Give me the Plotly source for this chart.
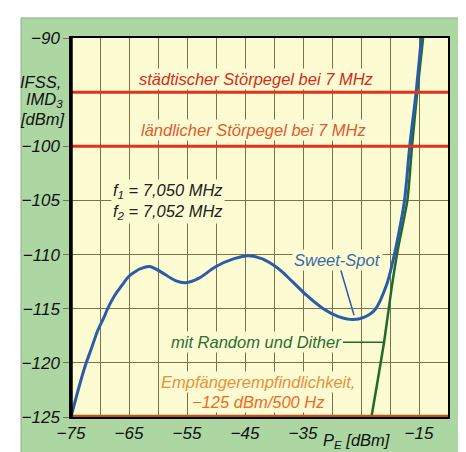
import plotly.graph_objects as go

# ---- data ----
imd_x = [-75, -73.5, -72.5, -71.5, -70.3, -69.4, -68.6, -67.5, -66.3, -65, -64, -63, -61.5, -59.5,
         -57, -55.2, -53, -50, -47, -44.5, -42, -39.5, -37, -34.3, -31.5, -29, -26.4, -24.5,
         -22.6, -20.6, -19.5, -18.3, -17.5, -16.6, -15.5, -14.6]
imd_y = [-125, -122.0, -120.2, -118.7, -116.9, -115.9, -114.9, -113.8, -112.9, -112.0, -111.6,
         -111.3, -111.1, -111.6, -112.4, -112.6, -112.2, -111.1, -110.4, -110.1, -110.4, -111.2,
         -112.4, -113.8, -115.0, -115.7, -116.0, -115.8, -115.1, -112.8, -110.6, -107.5, -105,
         -100, -95, -90]

dither_x = [-23.2, -21.0, -19.7, -18.6, -17.0, -16.2, -15.3, -14.3]
dither_y = [-125, -118.0, -113.0, -109.4, -105, -100, -95, -90]

x_tickvals = [-75, -65, -55, -45, -35, -15]
x_ticktext = ["−75", "−65", "−55", "−45", "−35", "−15"]
y_tickvals = [-125, -120, -115, -110, -105, -100, -90]
y_ticktext = ["−125", "−120", "−115", "−110", "−105", "−100", "−90"]

urban_level = -95
rural_level = -100
sensitivity_level = -125

FONT = "Liberation Sans, Arial, sans-serif"
PLOT_BG = "#fdfbd2"
GREEN_BG = "#acd7a3"
GRID = "#77734f"
RED = "#e2321f"
BLUE = "#2b5ca8"
DGREEN = "#1f6b2c"

fig = go.Figure()
fig.add_trace(go.Scatter(x=dither_x, y=dither_y, mode="lines",
                         line=dict(color=DGREEN, width=2.5, shape="spline", smoothing=0.6),
                         hoverinfo="skip", showlegend=False))
fig.add_trace(go.Scatter(x=imd_x, y=imd_y, mode="lines",
                         line=dict(color=BLUE, width=3, shape="spline", smoothing=1.0),
                         hoverinfo="skip", showlegend=False))

shapes = [
    dict(type="rect", xref="paper", yref="paper", x0=-0.1326, x1=1.0477, y0=-0.13, y1=1.0528,
         fillcolor=GREEN_BG, line=dict(color="#8fae8c", width=1), layer="below"),
    dict(type="rect", xref="paper", yref="paper", x0=0, x1=1, y0=0, y1=1,
         fillcolor=PLOT_BG, line=dict(width=0), layer="below"),
    dict(type="line", xref="paper", yref="y", x0=0, x1=1, y0=urban_level, y1=urban_level,
         line=dict(color=RED, width=3), layer="above"),
    dict(type="line", xref="paper", yref="y", x0=0, x1=1, y0=rural_level, y1=rural_level,
         line=dict(color=RED, width=3), layer="above"),
    dict(type="line", xref="paper", yref="y", x0=0, x1=1, y0=sensitivity_level, y1=sensitivity_level,
         line=dict(color="#c2511c", width=4.5), layer="above"),
    dict(type="line", xref="paper", yref="paper", x0=0, x1=0, y0=0, y1=1,
         line=dict(color="black", width=3.5), layer="above"),
]


def afont(color, size=16.5):
    return dict(family=FONT, size=size, color=color, style="italic")


annotations = [
    dict(x=-43.1, y=-93.8, text="städtischer Störpegel bei 7 MHz", showarrow=False,
         font=afont("#d42a1e"), bgcolor=PLOT_BG),
    dict(x=-43.6, y=-98.5, text="ländlicher Störpegel bei 7 MHz", showarrow=False,
         font=afont("#e05a30"), bgcolor=PLOT_BG),
    dict(x=-68.1, y=-104.1, xanchor="left", text="f<sub>1</sub> = 7,050 MHz", showarrow=False,
         font=afont("#222222"), bgcolor=PLOT_BG),
    dict(x=-68.1, y=-106.1, xanchor="left", text="f<sub>2</sub> = 7,052 MHz", showarrow=False,
         font=afont("#222222"), bgcolor=PLOT_BG),
    dict(x=-26.2, y=-115.6, ax=-29.0, ay=-110.5, axref="x", ayref="y", text="Sweet-Spot",
         showarrow=True, arrowhead=0, arrowwidth=1.5, arrowcolor=BLUE, standoff=0,
         font=afont("#3a68a8"), bgcolor=PLOT_BG),
    dict(x=-21.2, y=-118.1, ax=-43.1, ay=-118.1, axref="x", ayref="y", text="mit Random und Dither",
         showarrow=True, arrowhead=0, arrowwidth=1.5, arrowcolor=DGREEN, standoff=0,
         font=afont("#2b6e33"), bgcolor=PLOT_BG),
    dict(x=-42.8, y=-121.8, text="Empfängerempfindlichkeit,", showarrow=False,
         font=afont("#e8903a"), bgcolor=PLOT_BG),
    dict(x=-42.6, y=-123.6, text="−125 dBm/500 Hz", showarrow=False,
         font=afont("#f06a1e"), bgcolor=PLOT_BG),
    # axis titles
    dict(xref="paper", yref="paper", x=-0.0212, y=0.884, xanchor="right", yanchor="middle",
         text="IFSS,", showarrow=False, font=afont("#111111", 16.5)),
    dict(xref="paper", yref="paper", x=-0.016, y=0.836, xanchor="right", yanchor="middle",
         text="IMD<sub>3</sub>", showarrow=False, font=afont("#111111", 16.5)),
    dict(xref="paper", yref="paper", x=-0.011, y=0.786, xanchor="right", yanchor="middle",
         text="[dBm]", showarrow=False, font=afont("#111111", 16.5)),
    dict(xref="paper", yref="paper", x=0.756, y=-0.063, xanchor="center", yanchor="middle",
         text="P<sub>E</sub> [dBm]", showarrow=False, font=afont("#111111", 16.5)),
]

tickfont = dict(family=FONT, size=17, color="#111111", style="italic")

fig.update_layout(
    width=466, height=452,
    margin=dict(l=63, r=26, t=30, b=43, pad=0),
    paper_bgcolor="white",
    plot_bgcolor="rgba(0,0,0,0)",
    shapes=shapes,
    annotations=annotations,
    showlegend=False,
    xaxis=dict(range=[-75, -10], tickmode="array", tickvals=x_tickvals, ticktext=x_ticktext,
               showgrid=True, gridcolor=GRID, gridwidth=1.3, zeroline=False,
               minor=dict(tickmode="linear", tick0=-75, dtick=5, showgrid=True,
                          gridcolor=GRID, gridwidth=1.3, ticks=""),
               showline=True, linecolor="black", linewidth=1.5, mirror=True,
               ticks="", tickfont=tickfont, fixedrange=True),
    yaxis=dict(range=[-125, -90], tickmode="array", tickvals=y_tickvals, ticktext=y_ticktext,
               showgrid=True, gridcolor=GRID, gridwidth=1.3, zeroline=False,
               showline=True, linecolor="black", linewidth=1.5, mirror=True,
               ticks="outside", ticklen=6, tickcolor=GRID, tickwidth=1.3,
               tickfont=tickfont, fixedrange=True),
)

fig.write_html("out.html")
